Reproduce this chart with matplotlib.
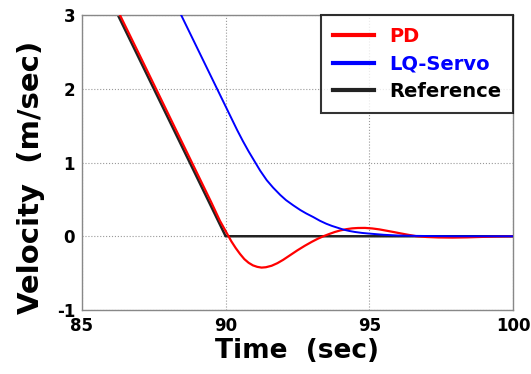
import numpy as np
import matplotlib
matplotlib.use('Agg')
import matplotlib.pyplot as plt
from matplotlib import font_manager

# reference velocity profile (ramp down to zero at t = 90 s)
t_ref = [85.0, 90.0, 100.0]
v_ref = [4.0, 0.0, 0.0]

# PD controller response
t_pd = [86.0, 86.32, 87.0, 88.0, 89.0, 89.5, 89.8, 90.0, 90.1, 90.2, 90.35, 90.5,
        90.65, 90.8, 90.95, 91.1, 91.25, 91.4, 91.6, 91.8, 92.0, 92.25, 92.5, 92.75,
        93.0, 93.2, 93.4, 93.6, 93.8, 94.0, 94.2, 94.4, 94.6, 94.85, 95.1, 95.35,
        95.6, 95.85, 96.1, 96.35, 96.65, 97.0, 97.4, 97.9, 98.4, 98.9, 99.4, 100.0]
v_pd = [3.26, 3.0, 2.46, 1.66, 0.86, 0.46, 0.21, 0.07, 0.0, -0.07, -0.16, -0.24,
        -0.31, -0.36, -0.395, -0.415, -0.425, -0.42, -0.40, -0.365, -0.32, -0.255, -0.19, -0.13,
        -0.075, -0.035, 0.0, 0.03, 0.058, 0.08, 0.096, 0.107, 0.112, 0.113, 0.106, 0.093,
        0.075, 0.057, 0.038, 0.02, 0.0, -0.01, -0.016, -0.018, -0.015, -0.009, -0.004, 0.0]

# LQ-servo controller response
t_lq = [88.0, 88.45, 89.0, 89.7, 89.95, 90.2, 90.4, 90.6, 90.8, 91.0, 91.2, 91.43,
        91.65, 91.9, 92.1, 92.35, 92.6, 92.8, 93.05, 93.28, 93.5, 93.7, 93.9, 94.1,
        94.3, 94.5, 94.75, 95.0, 95.5, 96.0, 96.65, 97.3, 98.0, 100.0]
v_lq = [3.36, 3.0, 2.56, 2.0, 1.8, 1.6, 1.44, 1.29, 1.15, 1.02, 0.89, 0.76,
        0.66, 0.56, 0.49, 0.42, 0.355, 0.31, 0.26, 0.21, 0.17, 0.14, 0.115, 0.09,
        0.072, 0.058, 0.045, 0.036, 0.02, 0.01, 0.005, 0.002, 0.0, 0.0]

x_ticks = [85, 90, 95, 100]
y_ticks = [-1, 0, 1, 2, 3]

fig = plt.figure(figsize=(5.31, 3.74), dpi=100)
ax = fig.add_axes([0.1544, 0.1711, 0.8117, 0.7888])

ax.plot(t_pd, v_pd, color='red', lw=1.6, label='PD', zorder=3)
ax.plot(t_lq, v_lq, color='blue', lw=1.4, label='LQ-Servo', zorder=3)
ax.plot(t_ref, v_ref, color='#222222', lw=1.8, label='Reference', zorder=2)

ax.set_xlim(85, 100)
ax.set_ylim(-1, 3)
ax.set_xticks(x_ticks)
ax.set_yticks(y_ticks)

# narrow bold digits for the tick labels if available
names = {f.name for f in font_manager.fontManager.ttflist}
tick_family = 'Liberation Sans Narrow' if 'Liberation Sans Narrow' in names else 'DejaVu Sans'
tick_font = dict(family=tick_family, weight='bold', size=12)
ax.set_xticklabels([str(v) for v in x_ticks], fontdict=tick_font)
ax.set_yticklabels([str(v) for v in y_ticks], fontdict=tick_font)
ax.tick_params(length=0, pad=5)

ax.grid(True, color='#999999', linestyle=':', linewidth=0.8)
for s in ax.spines.values():
    s.set_color('#888888')
    s.set_linewidth(1.0)

ax.set_xlabel('Time  (sec)', fontsize=19, fontweight='bold', labelpad=2)
ax.set_ylabel('Velocity  (m/sec)', fontsize=21, fontweight='bold')
ax.yaxis.set_label_coords(-0.085, 0.45)

leg = ax.legend(loc='upper right', prop={'weight': 'bold', 'size': 14},
                frameon=True, fancybox=False, borderaxespad=0, handlelength=2.1,
                labelspacing=0.45, borderpad=0.6, handletextpad=0.8)
leg.get_frame().set_edgecolor('black')
leg.get_frame().set_linewidth(1.5)
for line in leg.get_lines():
    line.set_linewidth(3)
for text, c in zip(leg.get_texts(), ['red', 'blue', 'black']):
    text.set_color(c)

fig.savefig('out.png', dpi=100)
